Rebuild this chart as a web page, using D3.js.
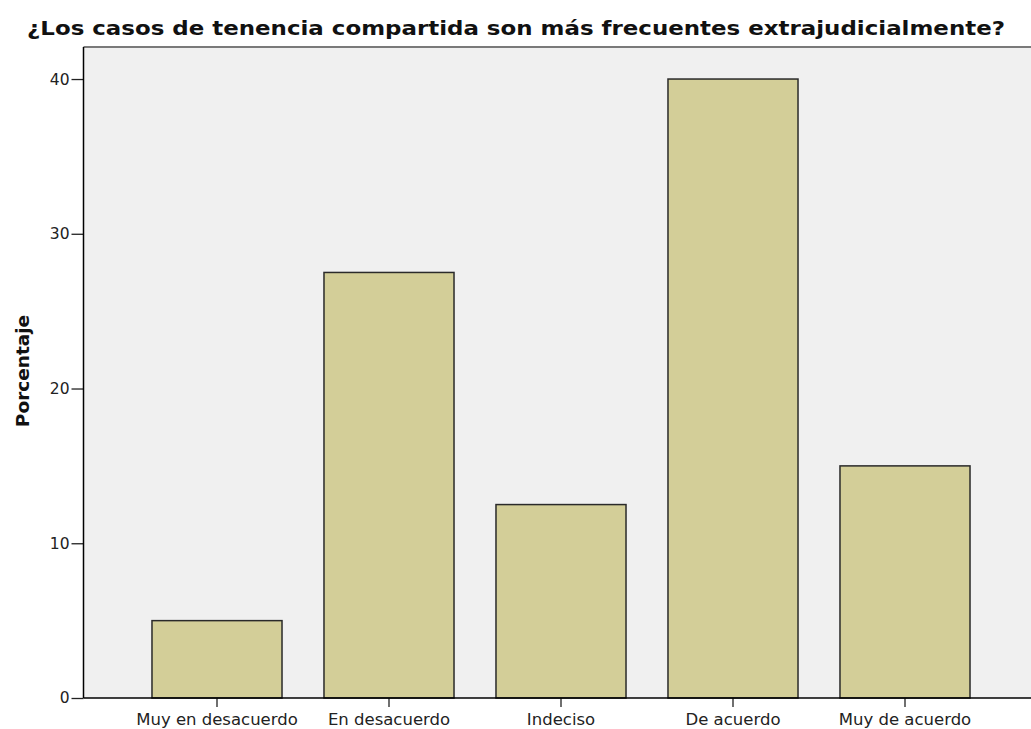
<!DOCTYPE html>
<html>
<head>
<meta charset="utf-8">
<script src="https://cdnjs.cloudflare.com/ajax/libs/d3/7.8.5/d3.min.js"></script>
<style>
  body { margin: 0; background: #fff; }
  text { font-family: "DejaVu Sans", Verdana, sans-serif; }
</style>
</head>
<body>
<div id="chart"></div>
<script>
let w = 1031;
let h = 729;

// data
const categories = ["Muy en desacuerdo", "En desacuerdo", "Indeciso", "De acuerdo", "Muy de acuerdo"];
const percents = [5, 27.5, 12.5, 40, 15];
const yTicks = [0, 10, 20, 30, 40];

const plot = { left: 83.5, right: 1031, top: 47, bottom: 698 };

let svg = d3.select("#chart")
    .append("svg")
    .attr("width", w)
    .attr("height", h);

let xScale = d3.scaleBand()
    .domain(categories)
    .range([131, 991])
    .paddingInner(0.244)
    .paddingOuter(0.122);

let yScale = d3.scaleLinear()
    .domain([0, 42.07])
    .range([plot.bottom, plot.top]);

// plot background
svg.append("rect")
    .attr("x", plot.left)
    .attr("y", plot.top)
    .attr("width", plot.right - plot.left)
    .attr("height", plot.bottom - plot.top)
    .attr("fill", "#f0f0f0");

// top frame line
svg.append("line")
    .attr("x1", plot.left)
    .attr("x2", plot.right)
    .attr("y1", plot.top)
    .attr("y2", plot.top)
    .attr("stroke", "#7a7a7a")
    .attr("stroke-width", 2);

// bars
svg.selectAll("rect.bar")
    .data(categories)
    .enter()
    .append("rect")
    .attr("class", "bar")
    .attr("x", d => xScale(d))
    .attr("width", xScale.bandwidth())
    .attr("y", (d, i) => yScale(percents[i]))
    .attr("height", (d, i) => yScale(0) - yScale(percents[i]))
    .attr("fill", "#d3ce98")
    .attr("stroke", "#2a2a2a")
    .attr("stroke-width", 1.5);

// axes
let yAxis = d3.axisLeft(yScale)
    .tickValues(yTicks)
    .tickSize(12)
    .tickPadding(2)
    .tickFormat(d3.format("d"));

let gy = svg.append("g")
    .attr("class", "y axis")
    .attr("transform", "translate(" + plot.left + ",0)")
    .call(yAxis);
gy.select(".domain").remove();
gy.append("line")
    .attr("x1", 0).attr("x2", 0)
    .attr("y1", plot.top).attr("y2", plot.bottom)
    .attr("stroke", "#000").attr("stroke-width", 1.5);
gy.selectAll(".tick line").attr("stroke", "#222").attr("stroke-width", 1.3);
gy.selectAll("text")
    .attr("font-size", 15.5)
    .attr("fill", "#222");

let xAxis = d3.axisBottom(xScale)
    .tickSize(9)
    .tickPadding(6);

let gx = svg.append("g")
    .attr("class", "x axis")
    .attr("transform", "translate(0," + plot.bottom + ")")
    .call(xAxis);
gx.select(".domain").remove();
gx.append("line")
    .attr("x1", plot.left).attr("x2", plot.right)
    .attr("y1", 0).attr("y2", 0)
    .attr("stroke", "#000").attr("stroke-width", 1.5);
gx.selectAll(".tick line").attr("stroke", "#222").attr("stroke-width", 1.3);
gx.selectAll("text")
    .attr("font-size", 16.5)
    .attr("fill", "#222");

// title
svg.append("text")
    .attr("x", 27)
    .attr("y", 35)
    .attr("font-size", 20)
    .attr("font-weight", "bold")
    .attr("fill", "#111")
    .attr("textLength", 978)
    .attr("lengthAdjust", "spacingAndGlyphs")
    .text("¿Los casos de tenencia compartida son más frecuentes extrajudicialmente?");

// y label
svg.append("text")
    .attr("transform", "translate(29,371) rotate(-90)")
    .attr("text-anchor", "middle")
    .attr("font-size", 18.5)
    .attr("font-weight", "bold")
    .attr("fill", "#111")
    .text("Porcentaje");
</script>
</body>
</html>
